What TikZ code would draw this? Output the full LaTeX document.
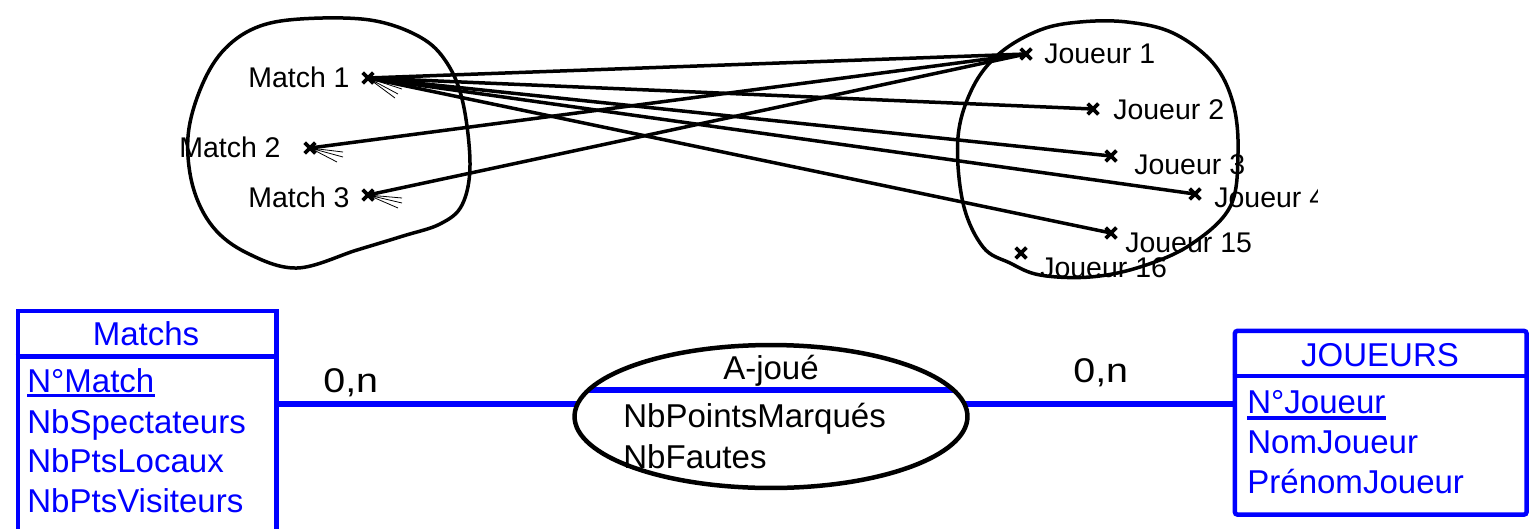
\documentclass[tikz,border=0pt]{standalone}
\usepackage{fontspec}
\setmainfont{Liberation Sans}
\usepackage{graphicx}
\usetikzlibrary{shapes.geometric, shapes.misc}
\definecolor{mcd-blue}{HTML}{0000FF}

\begin{document}
\begin{tikzpicture}[x=0.02cm, y=-0.02cm,
    every node/.style={inner sep=0pt},
    occ/.style={font=\fontsize{16.2}{19}\selectfont, anchor=base west},
    elem/.style={cross out, draw, line width=0.075cm, minimum size=0.14cm},
    tie/.style={line width=0.07cm},
    fan/.style={line width=0.45pt},
    blob/.style={line width=0.07cm, line join=round},
    ent/.style={draw=mcd-blue, line width=0.09cm, anchor=north west},
    attr/.style={font=\fontsize{18.8}{22}\selectfont, text=mcd-blue, anchor=base west},
    rel/.style={font=\fontsize{18.8}{22}\selectfont, anchor=base west},
    card/.style={font=\fontsize{19.5}{22}\selectfont, anchor=base west},
    link/.style={draw=mcd-blue, line width=0.11cm}]
  \clip (0,0) rectangle (1531,528);

  % occurrences: matchs
  \node[elem] (M1) at (368,78) {};
  \node[elem] (M2) at (310,148) {};
  \node[elem] (M3) at (368,195) {};
  \node[occ] (M1-t) at (248,87.5) {Match 1};
  \node[occ] (M2-t) at (179,157) {Match 2};
  \node[occ] (M3-t) at (248,207) {Match 3};

  % occurrences: joueurs
  \node[elem] (J1) at (1026,54) {};
  \node[elem] (J2) at (1093,109) {};
  \node[elem] (J3) at (1111,156) {};
  \node[elem] (J4) at (1195,194) {};
  \node[elem] (J15) at (1111,233) {};
  \node[elem] (J16) at (1021,253) {};
  \node[occ] (J1-t) at (1044,63) {Joueur 1};
  \node[occ] (J2-t) at (1113,119) {Joueur 2};
  \node[occ] (J3-t) at (1134,174) {Joueur 3};
  \begin{scope}
    \clip (0,0) rectangle (1317,528);
    \node[occ] (J4-t) at (1214,207) {Joueur 4};
  \end{scope}
  \node[occ] (J15-t) at (1125,252) {Joueur 15};
  \node[occ] (J16-t) at (1040,277) {Joueur 16};

  \foreach \j in {J1,J2,J3,J4,J15}
    \draw[tie] (M1.center) -- (\j.center);
  \draw[tie] (M2.center) -- (J1.center);
  \draw[tie] (M3.center) -- (J1.center);

  \draw[fan] (M1.center) -- ++(35,7) (M1.center) -- ++(34,11)
    (M1.center) -- ++(30,16) (M1.center) -- ++(27,20);
  \draw[fan] (M2.center) -- ++(33,4) (M2.center) -- ++(33,9)
    (M2.center) -- ++(27,14);
  \draw[fan] (M3.center) -- ++(34,3) (M3.center) -- ++(34,8)
    (M3.center) -- ++(30,13);

  \draw[blob] plot[smooth cycle, tension=0.6] coordinates {
    (300,19) (370,20) (420,37) (447,63) (463,103) (470,165) (462,205)
    (440,224) (403,236) (357,250) (297,268) (247,253) (213,227)
    (193,187) (188,137) (200,90) (222,52) (255,28)};
  \draw[blob] plot[smooth cycle, tension=0.6] coordinates {
    (1040,30) (1080,22) (1127,22) (1173,33) (1213,63) (1233,103)
    (1238,153) (1230,207) (1190,245) (1140,267) (1090,277) (1040,275)
    (1010,263) (983,247) (963,203) (958,137) (973,87) (1000,53)};

  % modele conceptuel
  \node[ent, minimum width=5.18cm, minimum height=5.4cm] (MATCHS) at (15.5,308.5) {};
  \draw[draw=mcd-blue, line width=0.095cm] (MATCHS.west |- 0,356.5) -- (MATCHS.east |- 0,356.5);
  \node[attr, anchor=base] (MATCHS-t) at (146,345) {Matchs};
  \node[attr] (NM) at (27,392) {N°Match};
  \node[attr] (NS) at (27,433) {NbSpectateurs};
  \node[attr] (NL) at (27,472.5) {NbPtsLocaux};
  \node[attr] (NV) at (27,512) {NbPtsVisiteurs};
  \draw[mcd-blue, line width=0.065cm] ([yshift=-0.07cm]NM.base west) -- ([yshift=-0.07cm]NM.base east);

  \node[ent, rounded corners=0.06cm, minimum width=5.84cm, minimum height=3.68cm] (JOUEURS) at (1232.5,328.5) {};
  \draw[draw=mcd-blue, line width=0.095cm] (JOUEURS.west |- 0,376) -- (JOUEURS.east |- 0,376);
  \node[attr, anchor=base] (JOUEURS-t) at (1380,366) {JOUEURS};
  \node[attr] (NJ) at (1247,413) {N°Joueur};
  \node[attr] (NO) at (1247,453) {NomJoueur};
  \node[attr] (PJ) at (1247,493) {PrénomJoueur};
  \draw[mcd-blue, line width=0.065cm] ([yshift=-0.1cm]NJ.base west) -- ([yshift=-0.1cm]NJ.base east);

  \draw[link] (MATCHS.east |- 0,404) -- (771,404);
  \draw[link] (771,404) -- (JOUEURS.west |- 0,404);
  \node[ellipse, draw, fill=white, line width=0.09cm, minimum width=7.86cm, minimum height=2.86cm,
        path picture={\draw[mcd-blue, line width=0.13cm]
          ([xshift=-5cm, yshift=0.53cm]path picture bounding box.center) --
          ([xshift=5cm, yshift=0.53cm]path picture bounding box.center);}]
        (AJOUE) at (771,416.5) {};
  \node[rel, anchor=base] (AJOUE-t) at (771,379) {A-joué};
  \node[rel] (NP) at (623,427) {NbPointsMarqués};
  \node[rel] (NF) at (623,468) {NbFautes};

  \node[card] (C1) at (323,392) {\scalebox{1.15}[1]{0,n}};
  \node[card] (C2) at (1073,382) {\scalebox{1.15}[1]{0,n}};
\end{tikzpicture}
\end{document}
